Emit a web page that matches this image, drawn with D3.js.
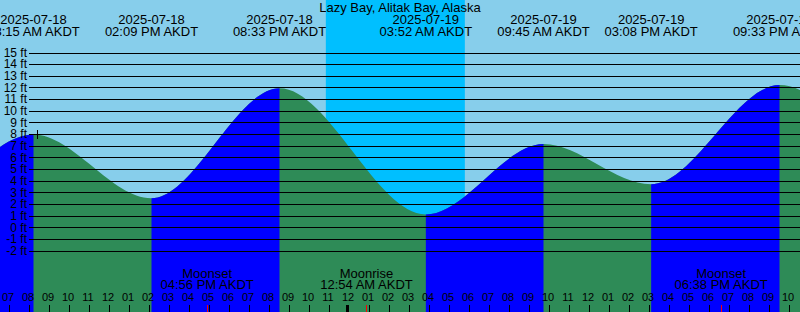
<!DOCTYPE html>
<html>
<head>
<meta charset="utf-8">
<script src="https://cdn.jsdelivr.net/npm/d3@7"></script>
<style>
  html, body { margin: 0; padding: 0; background: #87CEEB; }
  svg { display: block; }
  text { font-family: "Liberation Sans", Arial, sans-serif; fill: #000; }
</style>
</head>
<body>
<svg id="chart" width="800" height="312"></svg>
<script>
// ---- data ----
const title = "Lazy Bay, Alitak Bay, Alaska";
const tz = "AKDT";
// tide extremes (first/last lie outside the visible window)
const tideDates  = ["2025-07-17", "2025-07-18", "2025-07-18", "2025-07-18", "2025-07-18", "2025-07-19", "2025-07-19", "2025-07-19", "2025-07-19", "2025-07-20"];
const tideTimes  = ["07:40 PM",   "02:00 AM",   "08:15 AM",   "02:09 PM",   "08:33 PM",   "03:52 AM",   "09:45 AM",   "03:08 PM",   "09:33 PM",   "04:00 AM"];
const tideLevels = [11.5,         2.0,          7.95,         2.48,         11.93,        1.1,          7.14,         3.68,         12.2,         0.5];
// moon events
const moonNames = ["Moonset", "Moonrise", "Moonset"];
const moonDates = ["2025-07-18", "2025-07-19", "2025-07-19"];
const moonTimes = ["04:56 PM", "12:54 AM", "06:38 PM"];
// sun (night band)
const sunsetDate = "2025-07-18", sunsetTime = "10:52 PM";
const sunriseDate = "2025-07-19", sunriseTime = "05:49 AM";
// "now" mark
const nowDate = "2025-07-18", nowTime = "08:28 AM", nowLevel = 7.92;
// axis
const levelTicks = d3.range(-2, 16);
const viewStart = "2025-07-18 06:34:30";
const viewEnd   = "2025-07-19 22:34:30";

// ---- setup ----
const W = 800, H = 312;
const parse = d3.timeParse("%Y-%m-%d %I:%M %p");
const parseS = d3.timeParse("%Y-%m-%d %H:%M:%S");
const svg = d3.select("#chart");

const x = d3.scaleTime().domain([parseS(viewStart), parseS(viewEnd)]).range([0, W]);
const y = d3.scaleLinear().domain([-2, 15]).range([250.5, 52.5]);

const tide = tideDates.map((d, i) => ({ date: parse(d + " " + tideTimes[i]), level: tideLevels[i], dstr: d, tstr: tideTimes[i] }));

// sky
svg.append("rect").attr("x", 0).attr("y", 0).attr("width", W).attr("height", H).attr("fill", "#87CEEB");
// night
const ns = x(parse(sunsetDate + " " + sunsetTime)), ne = x(parse(sunriseDate + " " + sunriseTime));
svg.append("rect").attr("x", ns).attr("y", 0).attr("width", ne - ns).attr("height", H).attr("fill", "#00BFFF");

// tide area
const area = d3.area().x(d => x(d.date)).y0(H).y1(d => y(d.level)).curve(d3.curveMonotoneX);
const defs = svg.append("defs");
const clip = defs.append("clipPath").attr("id", "rising");
for (let i = 0; i < tide.length - 1; i++) {
  if (tide[i + 1].level > tide[i].level) {
    const a = x(tide[i].date), b = x(tide[i + 1].date);
    clip.append("rect").attr("x", a).attr("y", 0).attr("width", b - a).attr("height", H);
  }
}
svg.append("path").datum(tide).attr("d", area).attr("fill", "#2E8B57");
svg.append("path").datum(tide).attr("d", area).attr("fill", "#0000FF").attr("clip-path", "url(#rising)");

// level grid + labels
const yAxis = svg.append("g").attr("transform", "translate(29,0)")
  .call(d3.axisLeft(y).tickValues(levelTicks).tickSize(-(W - 29)).tickPadding(2).tickFormat(d => d + " ft"));
yAxis.select(".domain").remove();
yAxis.selectAll("line").attr("stroke", "#000").attr("shape-rendering", "crispEdges");
yAxis.selectAll("text").attr("font-size", 12).style("font-family", '"Liberation Sans", Arial, sans-serif');
yAxis.attr("font-size", null).attr("font-family", null);

// now mark
const nx = x(parse(nowDate + " " + nowTime)), ny = y(nowLevel);
svg.append("path").attr("d", `M${nx - 4.5},${ny}H${nx + 4.5}M${nx},${ny - 4.5}V${ny + 4.5}`)
  .attr("stroke", "#000").attr("stroke-width", 1).attr("shape-rendering", "crispEdges");

// title
svg.append("text").attr("x", W / 2).attr("y", 12).attr("text-anchor", "middle").attr("font-size", 13).text(title);

// extreme labels
const [d0, d1] = x.domain();
const vis = tide.filter(d => d.date >= d3.timeHour.offset(d0, -2) && d.date <= d3.timeHour.offset(d1, 2));
const lab = svg.append("g").attr("text-anchor", "middle").attr("font-size", 13);
vis.forEach(d => {
  lab.append("text").attr("x", x(d.date)).attr("y", 24).text(d.dstr);
  lab.append("text").attr("x", x(d.date)).attr("y", 36).text(d.tstr + " " + tz);
});

// hour axis
const xAxis = svg.append("g").attr("transform", `translate(0,${H})`)
  .call(d3.axisTop(x).ticks(d3.timeHour.every(1)).tickSize(7).tickPadding(4).tickFormat(d3.timeFormat("%I")));
xAxis.select(".domain").remove();
xAxis.attr("font-size", null).attr("font-family", null);
xAxis.selectAll("line").attr("stroke", "#000").attr("shape-rendering", "crispEdges");
xAxis.selectAll("text").attr("font-size", 11).attr("dx", -1).style("font-family", '"Liberation Sans", Arial, sans-serif');
xAxis.selectAll(".tick").filter(d => d.getHours() === 0).select("line")
  .attr("stroke-width", 3).attr("transform", "translate(-1.5,0)");

// moon events
const moon = moonNames.map((n, i) => ({ name: n, date: parse(moonDates[i] + " " + moonTimes[i]), tstr: moonTimes[i] }));
const mg = svg.append("g").attr("text-anchor", "middle").attr("font-size", 13);
moon.forEach(m => {
  const mx = x(m.date);
  mg.append("text").attr("x", mx).attr("y", 278).text(m.name);
  mg.append("text").attr("x", mx).attr("y", 289).text(m.tstr + " " + tz);
  svg.append("line").attr("x1", mx).attr("x2", mx).attr("y1", H - 7).attr("y2", H)
    .attr("stroke", "#FF0000").attr("shape-rendering", "crispEdges");
});
</script>
</body>
</html>
